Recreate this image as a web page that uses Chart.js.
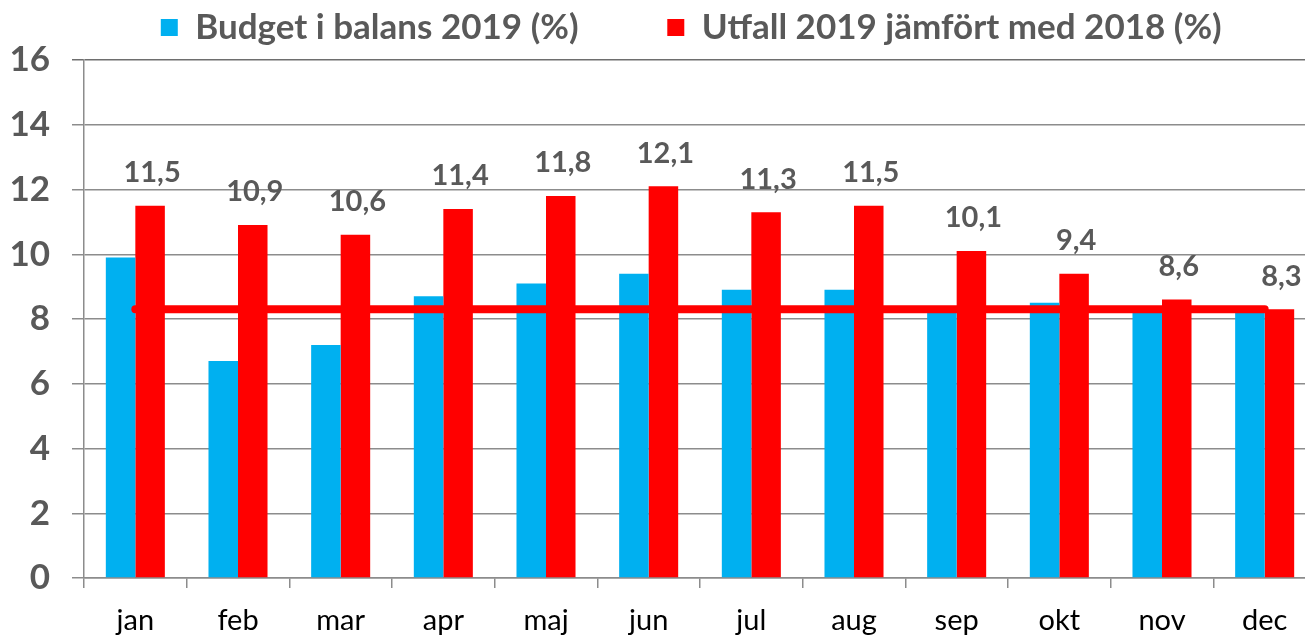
<!DOCTYPE html>
<html lang="sv">
<head>
  <meta charset="UTF-8">
  <title>Budget i balans 2019</title>
  <script src="https://cdn.jsdelivr.net/npm/chart.js"></script>
  <style>
    html, body { margin: 0; padding: 0; background: #fff; overflow: hidden; }
  </style>
</head>
<body>
  <canvas id="chart" width="1320" height="636"></canvas>

  <script>
    // Data
    const months = ['jan', 'feb', 'mar', 'apr', 'maj', 'jun', 'jul', 'aug', 'sep', 'okt', 'nov', 'dec'];
    const budget = [9.9, 6.7, 7.2, 8.7, 9.1, 9.4, 8.9, 8.9, 8.3, 8.5, 8.3, 8.3];
    const utfall = [11.5, 10.9, 10.6, 11.4, 11.8, 12.1, 11.3, 11.5, 10.1, 9.4, 8.6, 8.3];
    const target = [8.3, 8.3, 8.3, 8.3, 8.3, 8.3, 8.3, 8.3, 8.3, 8.3, 8.3, 8.3];
    const yMin = 0, yMax = 16, yStep = 2;

    const gray = '#595959';
    const gridColor = '#8c8c8c';

    // Värdeetiketter ovanför de röda staplarna
    const valueLabels = {
      id: 'valueLabels',
      afterDatasetsDraw(chart) {
        const meta = chart.getDatasetMeta(1);
        const ctx = chart.ctx;
        ctx.save();
        ctx.font = 'bold 29px Lato';
        ctx.fillStyle = gray;
        ctx.textAlign = 'center';
        ctx.textBaseline = 'middle';
        meta.data.forEach((bar, i) => {
          const txt = utfall[i].toFixed(1).replace('.', ',');
          ctx.fillText(txt, bar.x + 2, bar.y - 33);
        });
        ctx.restore();
      }
    };

    // Fast höjd på förklaringen så att diagrammet börjar på rätt höjd
    const legendSpace = {
      id: 'legendSpace',
      beforeLayout(chart) {
        const lg = chart.legend;
        if (lg && !lg._fixedHeight) {
          const fit = lg.fit;
          lg.fit = function () { fit.call(this); this.height = 60; };
          lg._fixedHeight = true;
        }
      }
    };

    new Chart(document.getElementById('chart').getContext('2d'), {
      type: 'bar',
      data: {
        labels: months,
        datasets: [
          {
            label: 'Budget i balans 2019 (%)',
            data: budget,
            backgroundColor: '#00B0F0',
            order: 2
          },
          {
            label: 'Utfall 2019 jämfört med 2018 (%)',
            data: utfall,
            backgroundColor: '#FF0000',
            order: 2
          },
          {
            type: 'line',
            label: 'target',
            data: target,
            borderColor: '#FF0000',
            borderWidth: 8,
            borderCapStyle: 'round',
            pointRadius: 0,
            fill: false,
            order: 1
          }
        ]
      },
      options: {
        responsive: false,
        animation: false,
        categoryPercentage: 0.575,
        barPercentage: 1,
        layout: { padding: { left: 0, right: 4, top: 0, bottom: 0 } },
        plugins: {
          tooltip: { enabled: false },
          legend: {
            position: 'top',
            fullSize: false,
            labels: {
              font: { family: 'Lato', size: 35, weight: 'bold' },
              color: gray,
              boxWidth: 17,
              boxHeight: 17,
              padding: 10,
              filter: item => item.datasetIndex < 2,
              generateLabels: chart => {
                const items = Chart.defaults.plugins.legend.labels.generateLabels(chart);
                items.forEach(it => {
                  it.lineWidth = 0;
                  if (it.datasetIndex === 0) it.text = it.text + '\u2003\u2003\u2003';
                  if (it.datasetIndex === 1) it.text = it.text + '\u2002';
                });
                return items;
              }
            }
          }
        },
        scales: {
          x: {
            afterFit: scale => { scale.height = 58; },
            grid: {
              offset: true,
              drawOnChartArea: false,
              color: gridColor,
              lineWidth: 1.5,
              tickLength: 10
            },
            border: { color: gridColor, width: 1.5 },
            ticks: {
              color: '#000',
              padding: 18,
              font: { family: 'Lato', size: 29, lineHeight: 1 }
            }
          },
          y: {
            min: yMin,
            max: yMax,
            afterFit: scale => { scale.width = 84; },
            ticks: {
              stepSize: yStep,
              color: gray,
              padding: 22,
              font: { family: 'Lato', size: 35, weight: 'bold' }
            },
            grid: {
              color: ctx => ctx.tick && ctx.tick.value === yMax ? '#6e6e6e' : gridColor,
              lineWidth: 1.5,
              tickLength: 12
            },
            border: { color: gridColor, width: 1.5 }
          }
        }
      },
      plugins: [valueLabels, legendSpace]
    });
  </script>
</body>
</html>
